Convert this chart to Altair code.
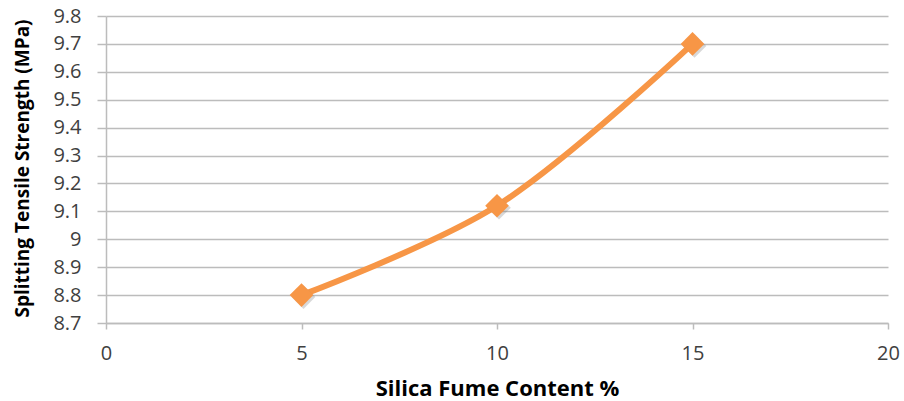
import altair as alt
import pandas as pd

# Silica fume content (%) vs splitting tensile strength (MPa)
silica_fume = [5, 10, 15]
strength = [8.8, 9.12, 9.7]
x_ticks = [0, 5, 10, 15, 20]
y_ticks = [8.7, 8.8, 8.9, 9.0, 9.1, 9.2, 9.3, 9.4, 9.5, 9.6, 9.7, 9.8]

df = pd.DataFrame({"sf": silica_fume, "strength": strength})

ORANGE = "#F79646"
GRID = "#BCBCBC"
FONT = "Open Sans"
MARKER_SIZE = 560

x_enc = alt.X(
    "sf:Q",
    scale=alt.Scale(domain=[0, 20], nice=False, zero=False),
    axis=alt.Axis(
        values=x_ticks,
        tickCount=len(x_ticks),
        title="Silica Fume Content %",
        grid=False,
        tickSize=6,
        labelPadding=14,
        labelFlush=False,
        labelOverlap=False,
        titleFontSize=22,
        titleY=65,
        titleBaseline="middle",
    ),
)
y_enc = alt.Y(
    "strength:Q",
    scale=alt.Scale(domain=[8.7, 9.8001], nice=False, zero=False),
    axis=alt.Axis(
        values=y_ticks,
        tickCount=len(y_ticks) + 4,
        labelExpr="datum.value == 9 ? '9' : format(datum.value, '.1f')",
        title="Splitting Tensile Strength (MPa)",
        tickSize=9,
        labelPadding=16,
        labelFlush=False,
        labelOverlap=False,
        titleFontSize=19,
        titleX=-84,
        titleY=152,
        titleAngle=-90,
        titleAlign="center",
        titleBaseline="middle",
    ),
)

base = alt.Chart(df)

line = base.mark_line(
    color=ORANGE, strokeWidth=6, interpolate="catmull-rom", strokeCap="round"
).encode(x=x_enc, y=y_enc)

shadow = base.mark_point(
    shape="diamond", size=MARKER_SIZE, filled=True, color="#7f7f7f", opacity=0.3,
    xOffset=2, yOffset=2,
).encode(x="sf:Q", y="strength:Q")

markers = base.mark_point(
    shape="diamond", size=MARKER_SIZE, filled=True, color=ORANGE, opacity=1
).encode(x="sf:Q", y="strength:Q")

chart = (
    alt.layer(line, shadow, markers)
    .properties(
        width=782,
        height=307,
        autosize=alt.AutoSizeParams(type="none"),
        padding={"left": 106, "top": 16, "right": 16, "bottom": 78},
        background="white",
    )
    .configure_view(stroke=None)
    .configure_axis(
        labelFont=FONT,
        labelFontSize=20,
        labelColor="#404040",
        titleFont=FONT,
        titleFontWeight="bold",
        titleColor="#000000",
        domainColor=GRID,
        domainWidth=1.5,
        tickColor=GRID,
        tickWidth=1.5,
        gridColor=GRID,
        gridWidth=1.5,
    )
)

chart.save("out.html", embed_options={"renderer": "svg", "actions": False})
